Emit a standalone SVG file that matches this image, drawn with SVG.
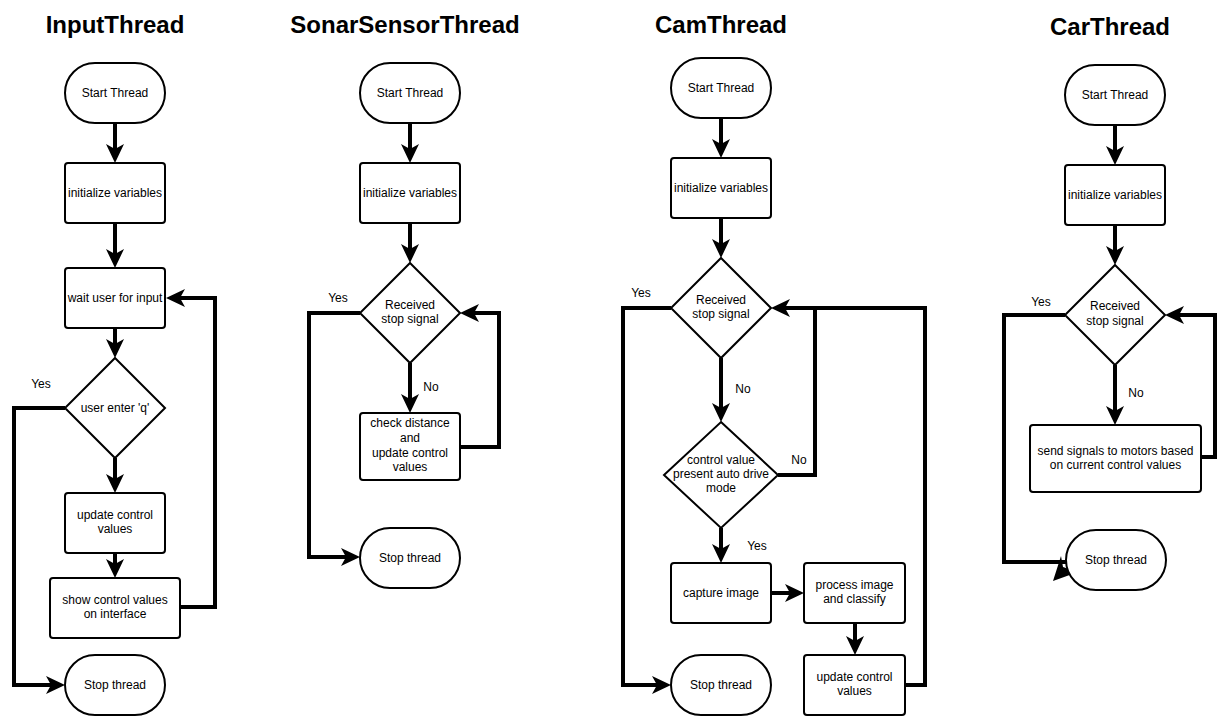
<svg xmlns="http://www.w3.org/2000/svg" width="1231" height="722" viewBox="0 0 1231 722">
<style>
.n{fill:#fff;stroke:#000;stroke-width:2}
.c{fill:none;stroke:#000;stroke-width:4}
.a{marker-end:url(#arr)}
text{font-family:"Liberation Sans",Arial,Helvetica,sans-serif;font-size:12px;fill:#000;text-anchor:middle}
.t{font-size:24px;font-weight:bold}
</style>
<defs>
<marker id="arr" markerUnits="userSpaceOnUse" viewBox="0 -10 20 20" markerWidth="20" markerHeight="20" refX="9" refY="0" orient="auto">
<path d="M19,0 L0,-9 L5,0 L0,9 Z" fill="#000"/>
</marker>
</defs>
<rect width="1231" height="722" fill="#fff"/>
<g id="titles">
<text class="t" x="115" y="33">InputThread</text>
<text class="t" x="405" y="33">SonarSensorThread</text>
<text class="t" x="721" y="33">CamThread</text>
<text class="t" x="1110" y="35">CarThread</text>
</g>
<g id="connectors">
<path class="c a" d="M115,123 L115,153"/>
<path class="c a" d="M115,223 L115,258"/>
<path class="c a" d="M115,328 L115,348"/>
<path class="c a" d="M65,408 L14,408 L14,685 L55,685"/>
<path class="c a" d="M115,458 L115,483"/>
<path class="c a" d="M115,553 L115,568"/>
<path class="c a" d="M180,607 L215,607 L215,298 L176,298"/>
<text x="41" y="388">Yes</text>

<path class="c a" d="M410,123 L410,153"/>
<path class="c a" d="M410,223 L410,253"/>
<path class="c a" d="M360,313 L309,313 L309,557 L350,557"/>
<path class="c a" d="M410,363 L410,403"/>
<path class="c a" d="M460,447 L499,447 L499,313 L470,313"/>
<text x="338" y="302">Yes</text>
<text x="431" y="391">No</text>

<path class="c a" d="M721,118 L721,148"/>
<path class="c a" d="M721,218 L721,248"/>
<path class="c a" d="M671,308 L623,308 L623,685 L661,685"/>
<path class="c a" d="M721,358 L721,412"/>
<path class="c" d="M778,475 L815,475 L815,308"/>
<path class="c a" d="M905,685 L925,685 L925,308 L781,308"/>
<path class="c a" d="M721,528 L721,553"/>
<path class="c a" d="M771,593 L794,593"/>
<path class="c a" d="M855,623 L855,645"/>
<text x="641" y="297">Yes</text>
<text x="743" y="393">No</text>
<text x="799" y="464">No</text>
<text x="757" y="550">Yes</text>

<path class="c a" d="M1115,125 L1115,155"/>
<path class="c a" d="M1115,225 L1115,255"/>
<path class="c" d="M1065,315 L1004,315 L1004,562 L1066,562"/>
<polygon points="1053,581 1061,556 1063,567 1078,572" fill="#000"/>
<path class="c a" d="M1115,365 L1115,415"/>
<path class="c a" d="M1201,457 L1215,457 L1215,315 L1175,315"/>
<text x="1041" y="306">Yes</text>
<text x="1136" y="397">No</text>
</g>

<g id="input-start"><rect class="n" x="65" y="63" width="100" height="60" rx="30"/><text x="115" y="97">Start Thread</text></g>
<g id="input-init"><rect class="n" x="65" y="163" width="100" height="60" rx="3"/><text x="115" y="197">initialize variables</text></g>
<g id="input-wait"><rect class="n" x="65" y="268" width="100" height="60" rx="3"/><text x="115" y="302">wait user for input</text></g>
<g id="input-q"><polygon class="n" points="115,358 165,408 115,458 65,408"/><text x="115" y="412">user enter 'q'</text></g>
<g id="input-update"><rect class="n" x="65" y="493" width="100" height="60" rx="3"/><text x="115" y="519">update control</text><text x="115" y="533">values</text></g>
<g id="input-show"><rect class="n" x="50" y="578" width="130" height="60" rx="3"/><text x="115" y="604">show control values</text><text x="115" y="618">on interface</text></g>
<g id="input-stop"><rect class="n" x="65" y="655" width="100" height="60" rx="30"/><text x="115" y="689">Stop thread</text></g>

<g id="sonar-start"><rect class="n" x="360" y="63" width="100" height="60" rx="30"/><text x="410" y="97">Start Thread</text></g>
<g id="sonar-init"><rect class="n" x="360" y="163" width="100" height="60" rx="3"/><text x="410" y="197">initialize variables</text></g>
<g id="sonar-stopsig"><polygon class="n" points="410,263 460,313 410,363 360,313"/><text x="410" y="309">Received</text><text x="410" y="323">stop signal</text></g>
<g id="sonar-check"><rect class="n" x="360" y="413" width="100" height="67" rx="3"/><text x="410" y="427">check distance</text><text x="410" y="442">and</text><text x="410" y="457">update control</text><text x="410" y="471">values</text></g>
<g id="sonar-stop"><rect class="n" x="360" y="528" width="100" height="60" rx="30"/><text x="410" y="562">Stop thread</text></g>

<g id="cam-start"><rect class="n" x="671" y="58" width="100" height="60" rx="30"/><text x="721" y="92">Start Thread</text></g>
<g id="cam-init"><rect class="n" x="671" y="158" width="100" height="60" rx="3"/><text x="721" y="192">initialize variables</text></g>
<g id="cam-stopsig"><polygon class="n" points="721,258 771,308 721,358 671,308"/><text x="721" y="304">Received</text><text x="721" y="318">stop signal</text></g>
<g id="cam-auto"><polygon class="n" points="721,422 778,475 721,528 664,475"/><text x="721" y="464">control value</text><text x="721" y="478">present auto drive</text><text x="721" y="492">mode</text></g>
<g id="cam-capture"><rect class="n" x="671" y="563" width="100" height="60" rx="3"/><text x="721" y="597">capture image</text></g>
<g id="cam-process"><rect class="n" x="804" y="563" width="101" height="60" rx="3"/><text x="854.5" y="589">process image</text><text x="854.5" y="603">and classify</text></g>
<g id="cam-update"><rect class="n" x="804" y="655" width="101" height="60" rx="3"/><text x="854.5" y="681">update control</text><text x="854.5" y="695">values</text></g>
<g id="cam-stop"><rect class="n" x="671" y="655" width="100" height="60" rx="30"/><text x="721" y="689">Stop thread</text></g>

<g id="car-start"><rect class="n" x="1065" y="65" width="100" height="60" rx="30"/><text x="1115" y="99">Start Thread</text></g>
<g id="car-init"><rect class="n" x="1065" y="165" width="100" height="60" rx="3"/><text x="1115" y="199">initialize variables</text></g>
<g id="car-stopsig"><polygon class="n" points="1115,265 1165,315 1115,365 1065,315"/><text x="1115" y="310">Received</text><text x="1115" y="325">stop signal</text></g>
<g id="car-send"><rect class="n" x="1030" y="425" width="171" height="67" rx="3"/><text x="1115.5" y="455">send signals to motors based</text><text x="1115.5" y="469">on current control values</text></g>
<g id="car-stop"><rect class="n" x="1066" y="530" width="100" height="60" rx="30"/><text x="1116" y="564">Stop thread</text></g>
</svg>
